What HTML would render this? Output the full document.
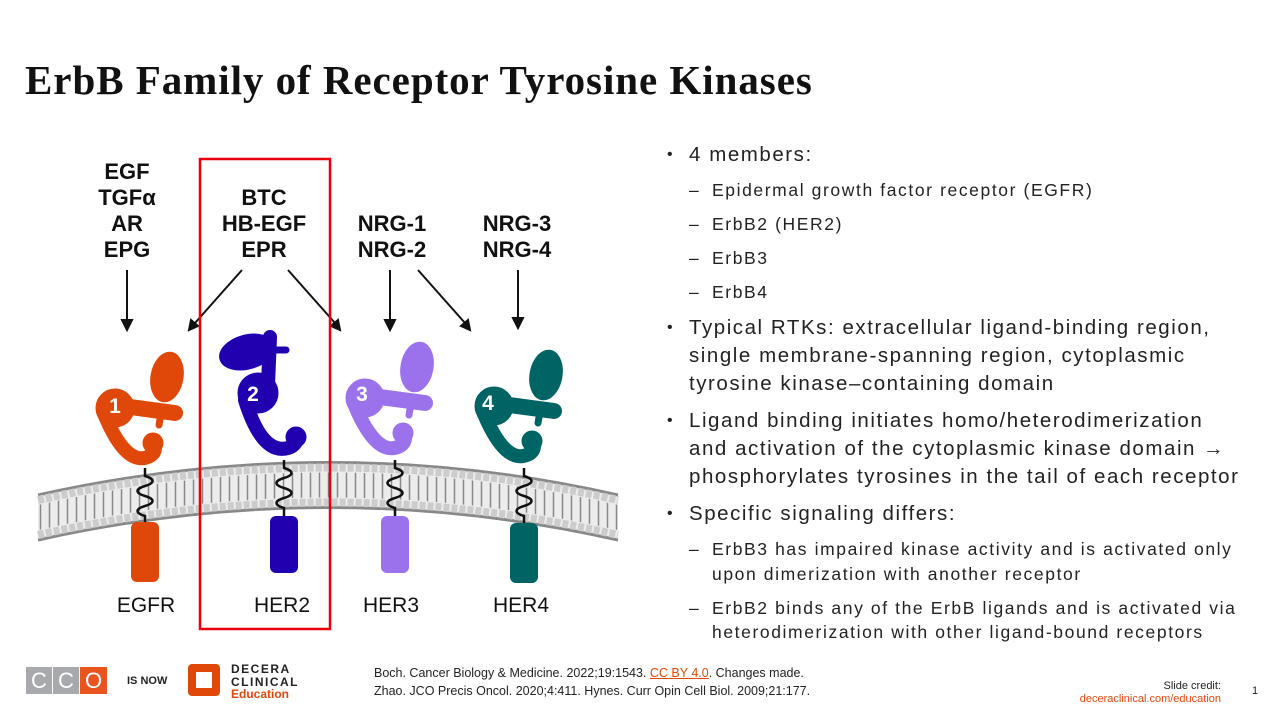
<!DOCTYPE html>
<html><head><meta charset="utf-8"><style>
body{margin:0;width:1280px;height:720px;background:#fff;position:relative;overflow:hidden;font-family:"Liberation Sans",sans-serif}
.t{position:absolute;left:25px;top:56px;font-family:"Liberation Serif",serif;font-weight:bold;font-size:41px;color:#111;letter-spacing:0.95px}
.r{position:absolute;left:667px;top:141px;width:600px;color:#222}
.b{position:relative;padding-left:22px;font-size:20.5px;line-height:28px;margin-bottom:9px;letter-spacing:1.55px;white-space:nowrap}
.b:before{content:"•";position:absolute;left:0;top:0;font-size:16px}
.s{position:relative;padding-left:45px;font-size:17.5px;line-height:24.5px;margin-bottom:9.5px;letter-spacing:1.6px;white-space:nowrap}
.s:before{content:"–";position:absolute;left:22px}
.foot{position:absolute;font-size:12.5px;color:#222}
</style></head><body>
<div class="t">ErbB Family of Receptor Tyrosine Kinases</div>
<svg width="660" height="650" style="position:absolute;left:0;top:0">
<defs>
<pattern id="lip" width="9" height="40" patternUnits="userSpaceOnUse"><line x1="4.5" y1="0" x2="4.5" y2="40" stroke="#888" stroke-width="1.5"/></pattern>
<g id="rec">
<ellipse cx="22" cy="-91" rx="16" ry="25" transform="rotate(10 22 -91)"/>
<line x1="-30" y1="-63" x2="30" y2="-55" stroke-width="16" stroke-linecap="round"/>
<circle cx="-30" cy="-60" r="19"/>
<path d="M-40,-52 Q-18,0 5,-12 Q12,-16 9,-24" fill="none" stroke-width="14" stroke-linecap="round"/>
<circle cx="8" cy="-25" r="10"/>
<line x1="17" y1="-60" x2="14" y2="-43" stroke-width="7" stroke-linecap="round"/>
</g>
</defs>
<path d="M38,495 Q330,430 618,495 L618,540 Q330,475 38,540 Z" fill="#ececec"/>
<path d="M38,505 Q330,440 618,505 L618,530 Q330,465 38,530 Z" fill="url(#lip)"/>
<path d="M38,495 Q330,430 618,495" fill="none" stroke="#888" stroke-width="3"/>
<path d="M38,540 Q330,475 618,540" fill="none" stroke="#888" stroke-width="3"/>
<path d="M38,500 Q330,435 618,500" fill="none" stroke="#ccc" stroke-width="8" stroke-dasharray="6 2"/>
<path d="M38,535 Q330,470 618,535" fill="none" stroke="#ccc" stroke-width="8" stroke-dasharray="6 2"/>
<g fill="none" stroke="#111" stroke-width="2.5">
<path d="M145,468 v8 c10,3 10,7 0,10 c-10,3 -10,7 0,10 c10,3 10,7 0,10 c-10,3 -10,7 0,10 v8"/>
<path d="M284,460 v8 c10,3 10,7 0,10 c-10,3 -10,7 0,10 c10,3 10,7 0,10 c-10,3 -10,7 0,10 v8"/>
<path d="M395,460 v8 c10,3 10,7 0,10 c-10,3 -10,7 0,10 c10,3 10,7 0,10 c-10,3 -10,7 0,10 v8"/>
<path d="M524,468 v8 c10,3 10,7 0,10 c-10,3 -10,7 0,10 c10,3 10,7 0,10 c-10,3 -10,7 0,10 v8"/>
</g>
<rect x="131" y="522" width="28" height="60" rx="6" fill="#e0480a"/>
<rect x="270" y="516" width="28" height="57" rx="6" fill="#2100b0"/>
<rect x="381" y="516" width="28" height="57" rx="6" fill="#9b72ec"/>
<rect x="510" y="523" width="28" height="60" rx="6" fill="#006464"/>
<use href="#rec" x="145" y="468" fill="#e0480a" stroke="#e0480a"/>
<use href="#rec" x="395" y="458" fill="#9b72ec" stroke="#9b72ec"/>
<use href="#rec" x="524" y="466" fill="#006464" stroke="#006464"/>
<g fill="#2100b0" stroke="#2100b0">
<ellipse cx="247" cy="352" rx="28" ry="17" transform="rotate(-15 247 352)"/>
<line x1="270" y1="337" x2="268" y2="385" stroke-width="14" stroke-linecap="round"/>
<line x1="270" y1="350" x2="286" y2="350" stroke-width="7" stroke-linecap="round"/>
<circle cx="258" cy="393" r="20"/>
<path d="M245,400 Q262,455 288,448 Q298,445 296,436" fill="none" stroke-width="14" stroke-linecap="round"/>
<circle cx="296" cy="437" r="10"/>
</g>
<g fill="#fff" font-weight="bold" font-size="21" text-anchor="middle">
<text x="115" y="413">1</text><text x="253" y="401">2</text><text x="362" y="401">3</text><text x="488" y="410">4</text>
</g>
<g font-weight="bold" font-size="22" text-anchor="middle" fill="#111">
<text x="127" y="179">EGF</text><text x="127" y="205">TGFα</text><text x="127" y="231">AR</text><text x="127" y="257">EPG</text>
<text x="264" y="205">BTC</text><text x="264" y="231">HB-EGF</text><text x="264" y="257">EPR</text>
<text x="392" y="231">NRG-1</text><text x="392" y="257">NRG-2</text>
<text x="517" y="231">NRG-3</text><text x="517" y="257">NRG-4</text>
</g>
<g stroke="#111" stroke-width="2" fill="#111">
<line x1="127" y1="270" x2="127" y2="322"/><path d="M122,320 L127,330 L132,320Z"/>
<line x1="242" y1="270" x2="195" y2="323"/><path d="M191,320 L189,330 L198,326Z"/>
<line x1="288" y1="270" x2="335" y2="323"/><path d="M331,326 L340,330 L338,320Z"/>
<line x1="390" y1="270" x2="390" y2="322"/><path d="M385,320 L390,330 L395,320Z"/>
<line x1="418" y1="270" x2="465" y2="323"/><path d="M461,326 L470,330 L468,320Z"/>
<line x1="518" y1="270" x2="518" y2="320"/><path d="M513,318 L518,328 L523,318Z"/>
</g>
<g font-size="21" text-anchor="middle" fill="#111">
<text x="146" y="612">EGFR</text><text x="282" y="612">HER2</text><text x="391" y="612">HER3</text><text x="521" y="612">HER4</text>
</g>
<rect x="200" y="159" width="130" height="470" fill="none" stroke="#e8000b" stroke-width="2.5"/>
</svg>
<div class="r">
<div class="b">4 members:</div>
<div class="s">Epidermal growth factor receptor (EGFR)</div>
<div class="s">ErbB2 (HER2)</div>
<div class="s">ErbB3</div>
<div class="s">ErbB4</div>
<div class="b">Typical RTKs: extracellular ligand-binding region,<br>single membrane-spanning region, cytoplasmic<br>tyrosine kinase–containing domain</div>
<div class="b">Ligand binding initiates homo/heterodimerization<br>and activation of the cytoplasmic kinase domain →<br>phosphorylates tyrosines in the tail of each receptor</div>
<div class="b">Specific signaling differs:</div>
<div class="s">ErbB3 has impaired kinase activity and is activated only<br>upon dimerization with another receptor</div>
<div class="s">ErbB2 binds any of the ErbB ligands and is activated via<br>heterodimerization with other ligand-bound receptors</div>
</div>
<div style="position:absolute;left:26px;top:667px;display:flex">
<div style="width:26px;height:27px;background:#a7a9ac;color:#fff;font-size:22px;text-align:center;line-height:27px;margin-right:1px">C</div>
<div style="width:26px;height:27px;background:#a7a9ac;color:#fff;font-size:22px;text-align:center;line-height:27px;margin-right:1px">C</div>
<div style="width:27px;height:27px;background:#e8541e;color:#fff;font-size:22px;text-align:center;line-height:27px">O</div>
</div>
<div class="foot" style="left:127px;top:675px;font-weight:bold;font-size:11px">IS NOW</div>
<div style="position:absolute;left:188px;top:664px;width:32px;height:32px;background:#e0480a;border-radius:4px"></div>
<div style="position:absolute;left:196px;top:672px;width:16px;height:16px;background:#fff"></div>
<div class="foot" style="left:231px;top:663px;font-weight:bold;font-size:12px;line-height:12.5px;letter-spacing:1.5px">DECERA<br>CLINICAL<br><span style="color:#e0480a;letter-spacing:0">Education</span></div>
<div class="foot" style="left:374px;top:664px;line-height:18px">Boch. Cancer Biology &amp; Medicine. 2022;19:1543. <span style="color:#e0480a;text-decoration:underline">CC BY 4.0</span>. Changes made.<br>Zhao. JCO Precis Oncol. 2020;4:411. Hynes. Curr Opin Cell Biol. 2009;21:177.</div>
<div class="foot" style="right:59px;top:680px;font-size:11px;text-align:right;line-height:13px">Slide credit:<br><span style="color:#e0480a">deceraclinical.com/education</span></div>
<div class="foot" style="left:1252px;top:685px;font-size:11px">1</div>
</body></html>
